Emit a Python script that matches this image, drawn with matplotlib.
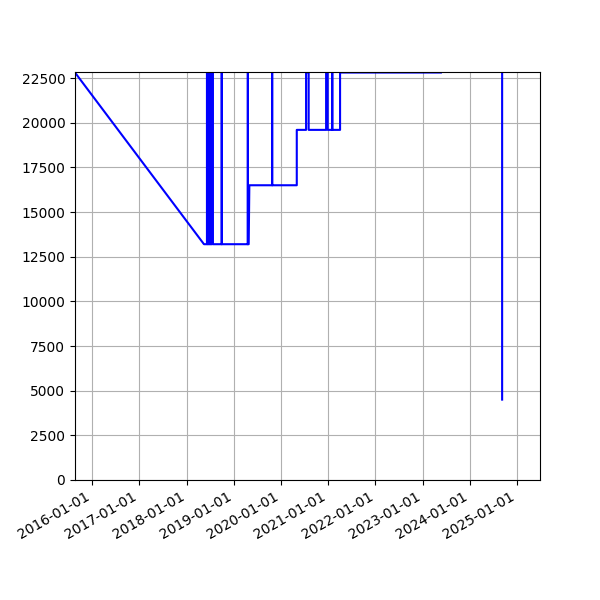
import numpy as np
import pandas as pd
import matplotlib
matplotlib.use("Agg")
import matplotlib.pyplot as plt
import matplotlib.dates as mdates
import matplotlib.ticker as mticker

TOP = 22810

# readings (date, value); NaN marks the gap in the record
dates = [
	"2015-08-22", "2018-05-16",
	"2018-06-08", "2018-06-08", "2018-06-11", "2018-06-11",
	"2018-06-15", "2018-06-15", "2018-06-19", "2018-06-19",
	"2018-06-23", "2018-06-23", "2018-06-27", "2018-06-27",
	"2018-07-01", "2018-07-01", "2018-07-05", "2018-07-05",
	"2018-07-09", "2018-07-09", "2018-07-13", "2018-07-13",
	"2018-07-17", "2018-07-17", "2018-07-24", "2018-07-24",
	"2018-09-30", "2018-09-30", "2018-10-01", "2018-10-01",
	"2019-04-20", "2019-04-20", "2019-04-21", "2019-04-21",
	"2019-04-27", "2019-05-02",
	"2019-10-25", "2019-10-25", "2019-10-26", "2019-10-26",
	"2020-05-03", "2020-05-03",
	"2020-07-14", "2020-07-14", "2020-08-03", "2020-08-03",
	"2020-12-16", "2020-12-16", "2020-12-28", "2020-12-28",
	"2021-02-01", "2021-02-01", "2021-02-02", "2021-02-02",
	"2021-04-03", "2021-04-03", "2023-05-23",
	"2023-05-24",
	"2024-09-08", "2024-09-08",
]
values = [
	TOP, 13200,
	13200, TOP, TOP, 13200,
	13200, TOP, TOP, 13200,
	13200, TOP, TOP, 13200,
	13200, TOP, TOP, 13200,
	13200, TOP, TOP, 13200,
	13200, TOP, TOP, 13200,
	13200, TOP, TOP, 13200,
	13200, TOP, TOP, 13200,
	13200, 16500,
	16500, TOP, TOP, 16500,
	16500, 19600,
	19600, TOP, TOP, 19600,
	19600, TOP, TOP, 19600,
	19600, TOP, TOP, 19600,
	19600, TOP, TOP,
	np.nan,
	TOP, 4500,
]

x = pd.to_datetime(dates)

fig, ax = plt.subplots(figsize=(6, 6), dpi=100)
ax.plot(x, values, color="blue")
ax.set_ylim(0, 22840)
ax.yaxis.set_major_locator(mticker.MultipleLocator(2500))
ax.set_xlim(pd.Timestamp("2015-08-22"), pd.Timestamp("2025-06-28"))
ax.xaxis.set_major_locator(mdates.YearLocator())
ax.xaxis.set_major_formatter(mdates.DateFormatter("%Y-%m-%d"))
ax.grid(True)
fig.autofmt_xdate()
fig.savefig("out.png")
